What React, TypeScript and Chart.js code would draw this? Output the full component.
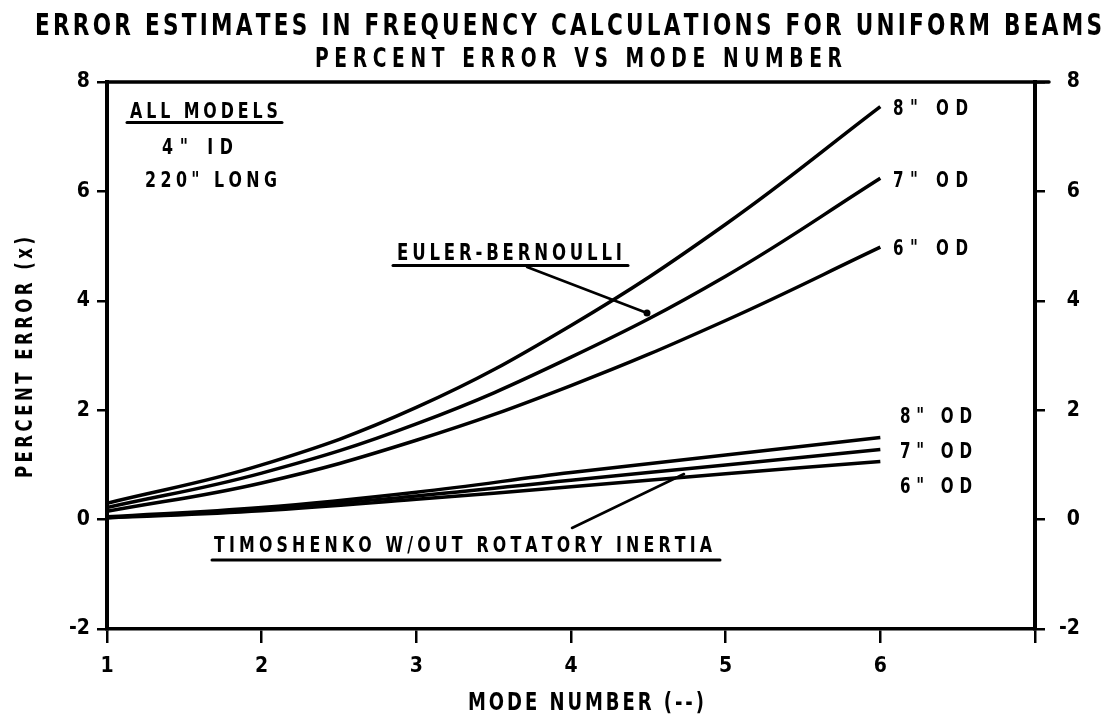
import { useEffect, useRef } from 'react';
import { Chart, registerables } from 'chart.js';

Chart.register(...registerables);

// ---- data ----
const modeNumbers = [1, 2, 3, 4, 5, 6];
const eulerOD8 = [0.3, 1.0, 2.05, 3.55, 5.4, 7.55];
const eulerOD7 = [0.22, 0.85, 1.75, 2.97, 4.45, 6.24];
const eulerOD6 = [0.15, 0.67, 1.45, 2.45, 3.64, 4.98];
const timoOD8 = [0.05, 0.22, 0.5, 0.86, 1.18, 1.5];
const timoOD7 = [0.04, 0.19, 0.43, 0.72, 1.0, 1.28];
const timoOD6 = [0.03, 0.16, 0.37, 0.6, 0.84, 1.06];
const xTickLabels = ['1', '2', '3', '4', '5', '6'];
const yMin = -2;
const yMax = 8;
const xMin = 1;
const xMax = 7;

const FONT = "'DejaVu Sans Condensed', 'DejaVu Sans', sans-serif";

function drawSpaced(
  ctx: CanvasRenderingContext2D,
  text: string,
  left: number,
  right: number,
  baseline: number,
  size: number,
  squeeze = 0.8,
) {
  ctx.font = `bold ${size}px ${FONT}`;
  ctx.textAlign = 'left';
  ctx.textBaseline = 'alphabetic';
  ctx.fillStyle = '#000';
  const chars = Array.from(text);
  const widths = chars.map((c) => ctx.measureText(c).width * squeeze);
  const total = widths.reduce((a, b) => a + b, 0);
  const gap = chars.length > 1 ? (right - left - total) / (chars.length - 1) : 0;
  let x = left;
  chars.forEach((c, i) => {
    ctx.save();
    ctx.translate(x, baseline);
    ctx.scale(squeeze, 1);
    ctx.fillText(c, 0, 0);
    ctx.restore();
    x += widths[i] + gap;
  });
}

function line(ctx: CanvasRenderingContext2D, x1: number, y1: number, x2: number, y2: number, w: number) {
  ctx.beginPath();
  ctx.lineWidth = w;
  ctx.strokeStyle = '#000';
  ctx.lineCap = 'round';
  ctx.moveTo(x1, y1);
  ctx.lineTo(x2, y2);
  ctx.stroke();
}

const annotationPlugin = {
  id: 'annotations',
  afterDraw(chart: any) {
    const ctx: CanvasRenderingContext2D = chart.ctx;
    const area = chart.chartArea;
    ctx.save();
    // top frame line
    line(ctx, area.left, area.top, area.right + 14, area.top, 3.5);

    // titles
    drawSpaced(ctx, 'ERROR ESTIMATES IN FREQUENCY CALCULATIONS FOR UNIFORM BEAMS', 35, 1102, 35, 30);
    drawSpaced(ctx, 'PERCENT ERROR VS MODE NUMBER', 315, 842, 67, 26);

    // axis titles
    drawSpaced(ctx, 'MODE NUMBER (--)', 468, 704, 710, 25);
    ctx.save();
    ctx.translate(32, 478);
    ctx.rotate(-Math.PI / 2);
    drawSpaced(ctx, 'PERCENT ERROR (x)', 0, 241, 0, 23);
    ctx.restore();

    // info block
    drawSpaced(ctx, 'ALL MODELS', 130, 278, 118, 22);
    line(ctx, 127, 122.5, 282, 122.5, 3);
    drawSpaced(ctx, '4" ID', 162, 233, 154, 22);
    drawSpaced(ctx, '220" LONG', 145, 277, 187, 22);

    // Euler-Bernoulli label + leader
    drawSpaced(ctx, 'EULER-BERNOULLI', 397, 622, 260, 23);
    line(ctx, 393, 265.5, 628, 265.5, 3);
    line(ctx, 527, 267, 647, 313, 2.5);
    ctx.beginPath();
    ctx.arc(647, 313, 3.5, 0, Math.PI * 2);
    ctx.fill();

    // Timoshenko label + leader
    drawSpaced(ctx, 'TIMOSHENKO W/OUT ROTATORY INERTIA', 214, 712, 552, 22);
    line(ctx, 212, 560, 720, 560, 3);
    line(ctx, 572, 528, 684, 474, 2.5);

    // curve labels
    drawSpaced(ctx, '8" OD', 893, 968, 115, 21);
    drawSpaced(ctx, '7" OD', 893, 968, 187, 21);
    drawSpaced(ctx, '6" OD', 893, 968, 255, 21);
    drawSpaced(ctx, '8" OD', 900, 972, 423, 21);
    drawSpaced(ctx, '7" OD', 900, 972, 458, 21);
    drawSpaced(ctx, '6" OD', 900, 972, 493, 21);
    ctx.restore();
  },
};

function series(values: number[]) {
  return {
    data: modeNumbers.map((m, i) => ({ x: m, y: values[i] })),
    borderColor: '#000',
    borderWidth: 3.5,
    pointRadius: 0,
    fill: false,
    tension: 0.4,
  };
}

export default function App() {
  const ref = useRef<HTMLCanvasElement>(null);
  useEffect(() => {
    if (!ref.current) return;
    const tickFont = { family: FONT, size: 21, weight: 'bold' as const };
    const chart = new Chart(ref.current, {
      type: 'line',
      data: {
        datasets: [
          series(eulerOD8),
          series(eulerOD7),
          series(eulerOD6),
          series(timoOD8),
          series(timoOD7),
          series(timoOD6),
        ],
      },
      options: {
        responsive: false,
        animation: false,
        layout: { padding: { top: 82, right: 29, left: 0, bottom: 0 } },
        plugins: { legend: { display: false }, tooltip: { enabled: false }, title: { display: false } },
        scales: {
          x: {
            type: 'linear',
            min: xMin,
            max: xMax,
            ticks: {
              stepSize: 1,
              color: '#000',
              font: tickFont,
              padding: 11,
              callback: (v: any) => {
                const i = modeNumbers.indexOf(Number(v));
                return i >= 0 ? xTickLabels[i] : '';
              },
            },
            grid: { drawOnChartArea: false, drawTicks: true, tickLength: 14, color: '#000', lineWidth: 2.5 },
            border: { display: true, color: '#000', width: 3.5 },
            afterFit: (s: any) => {
              s.height = 88;
            },
          },
          y: {
            type: 'linear',
            position: 'left',
            min: yMin,
            max: yMax,
            ticks: { stepSize: 2, color: '#000', font: tickFont, padding: 7, callback: (v: any) => String(v) },
            grid: { drawOnChartArea: false, drawTicks: true, tickLength: 10, color: '#000', lineWidth: 2.5 },
            border: { display: true, color: '#000', width: 4 },
            afterFit: (s: any) => {
              s.width = 107;
            },
          },
          y2: {
            type: 'linear',
            position: 'right',
            min: yMin,
            max: yMax,
            ticks: {
              stepSize: 2,
              color: '#000',
              font: tickFont,
              padding: 7,
              crossAlign: 'far',
              callback: (v: any) => String(v),
            },
            grid: { drawOnChartArea: false, drawTicks: true, tickLength: 10, color: '#000', lineWidth: 2.5 },
            border: { display: true, color: '#000', width: 4 },
            afterFit: (s: any) => {
              s.width = 45;
            },
          },
        },
      },
      plugins: [annotationPlugin],
    });
    return () => chart.destroy();
  }, []);
  return (
    <canvas
      ref={ref}
      width={1109}
      height={717}
      style={{ position: 'fixed', left: 0, top: 0, width: 1109, height: 717, background: '#fff' }}
    />
  );
}
